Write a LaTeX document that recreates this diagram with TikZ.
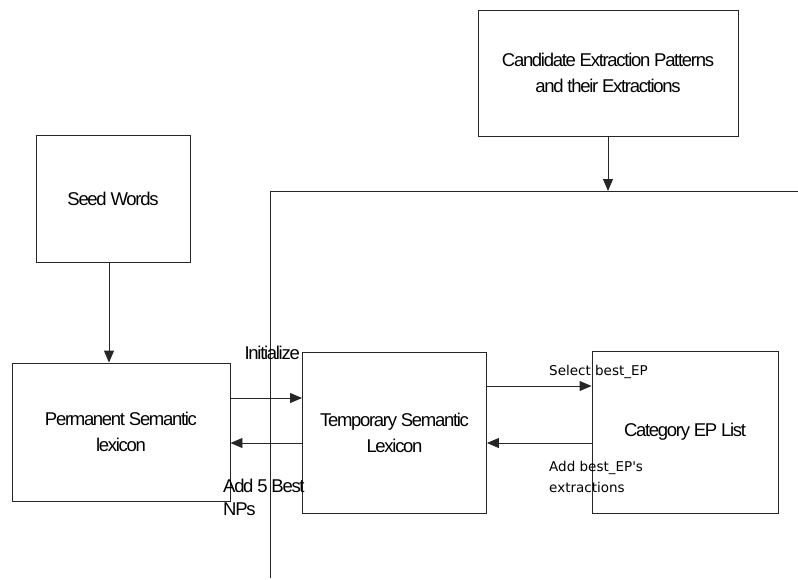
\documentclass[tikz,border=0pt]{standalone}
\usepackage{fontspec}
\setmainfont{Liberation Sans}
\newfontfamily\boxfont[LetterSpace=-7]{Liberation Sans}
\newfontfamily\labfont{DejaVu Sans}
\usetikzlibrary{arrows.meta}
\begin{document}
\begin{tikzpicture}[x=1pt,y=-1pt,
  blk/.style={draw=black!85,line width=0.9pt,inner sep=0pt,align=center,font=\boxfont\fontsize{18.5}{26}\selectfont},
  arr/.style={draw=black!85,line width=0.9pt,-{Triangle[length=12pt,width=10pt]}},
  ln/.style={draw=black!85,line width=0.9pt},
  lab/.style={font=\labfont\fontsize{13.5}{19}\selectfont,align=left,inner sep=0pt,anchor=north west},
  blab/.style={font=\boxfont\fontsize{18.5}{23}\selectfont,align=left,inner sep=0pt}]
\useasboundingbox (0,0) rectangle (798,579);
\node[blk,minimum width=260pt,minimum height=126pt] (cand) at (608,73) {Candidate Extraction Patterns\\and their Extractions};
\node[blk,minimum width=154pt,minimum height=127pt] (seed) at (113,198.5) {Seed Words};
\node[blk,minimum width=218pt,minimum height=138pt] (perm) at (121,432) {Permanent Semantic\\lexicon};
\node[blk,minimum width=184pt,minimum height=161pt] (temp) at (394.5,432.5) {Temporary Semantic\\Lexicon};
\node[blk,minimum width=186pt,minimum height=162pt] (cat) at (685,432) {Category EP List};
\coordinate (hl) at (270,191);
\coordinate (hr) at (798,191);
\coordinate (vb) at (270,578);
\coordinate (ha) at (608,191);
\draw[ln] (vb) -- (hl) -- (hr);
\draw[arr] (cand.south -| ha) -- (ha);
\draw[arr] (seed.south -| 109,0) -- (perm.north -| 109,0);
\draw[arr] (perm.east |- 0,398) -- (temp.west |- 0,398);
\draw[arr] (temp.west |- 0,443) -- (perm.east |- 0,443);
\draw[arr] (temp.east |- 0,386) -- (cat.west |- 0,386);
\draw[arr] (cat.west |- 0,443) -- (temp.east |- 0,443);
\node[blab,anchor=east] (init) at (300,353) {Initialize};
\node[blab,anchor=north west] (add5) at (223,479) {Add 5 Best\\NPs};
\node[lab,anchor=west] (sel) at (549,372) {Select best\_EP};
\node[lab,anchor=west] (addb) at (549,468) {Add best\_EP's};
\node[lab,anchor=west] (addc) at (549,487) {extractions};
\end{tikzpicture}
\end{document}
